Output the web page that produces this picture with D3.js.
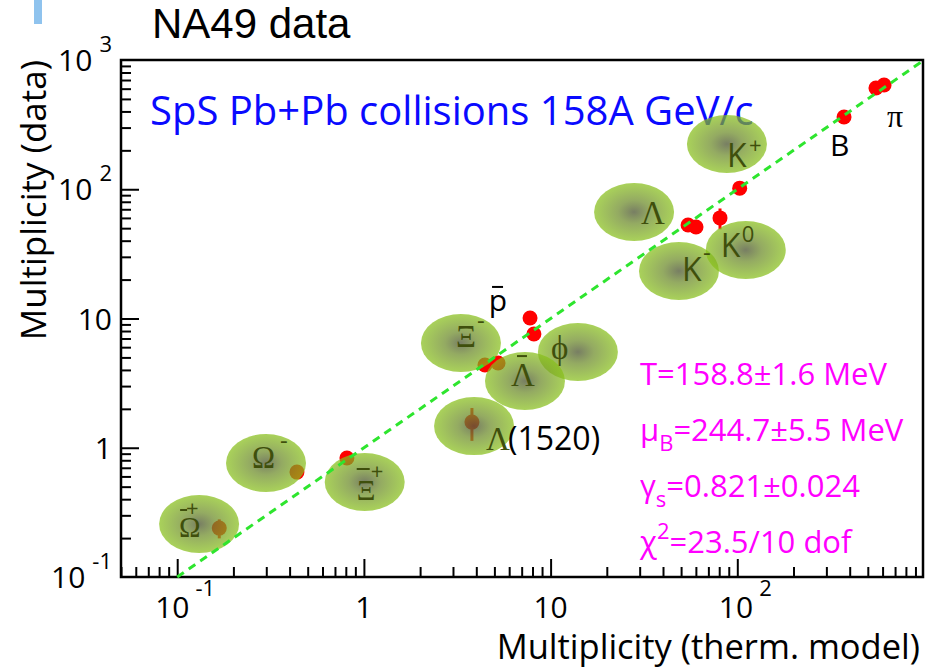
<!DOCTYPE html>
<html><head><meta charset="utf-8">
<script src="https://cdn.jsdelivr.net/npm/d3@7"></script>
<style>body{margin:0;background:#fff}svg{display:block}</style>
</head><body>
<script>
// Hadron yields, central Pb+Pb at 158A GeV/c: thermal-model prediction vs. measurement
const species   = ["pi+","pi-","B","K+","Lambda","K-","K0s","pbar","phi","Xi-","Lambdabar","Lambda(1520)","Omega-","Xibar+","Omegabar+"];
const modelYield = [553, 611, 373, 103, 54.5, 60.1, 80.8, 7.76, 8.14, 4.45, 5.23, 3.79, 0.438, 0.811, 0.168];
const dataYield  = [607, 641, 362, 102, 52.9, 51.0, 60.0, 10.1, 7.59, 4.37, 4.53, 1.58, 0.648, 0.834, 0.239];
const dataErr    = [0, 0, 0, 0, 0, 0, 11, 0, 0, 0, 0, 0.45, 0, 0, 0.04];

// highlighted particle families: blob centres in axis units
const blobIds   = ["K+","Lambda","K-","K0","Xi-","phi","Lambdabar","Lambda1520","Omega-","Xibar+","Omegabar+"];
const blobModel = [88, 28, 48.7, 111, 3.31, 14.0, 7.29, 3.89, 0.299, 1.01, 0.131];
const blobData  = [224, 66.7, 23.3, 33.9, 6.46, 5.51, 3.28, 1.47, 0.762, 0.543, 0.257];

// axis ticks
const xTickValues = [0.1, 1, 10, 100];
const xTickBase   = ["10", "1", "10", "10"];
const xTickExp    = ["-1", "", "", "2"];
const yTickValues = [0.1, 1, 10, 100, 1000];
const yTickBase   = ["10", "1", "10", "10", "10"];
const yTickExp    = ["-1", "", "", "2", "3"];

// fit parameters
const fitLines = [
  [{t: "T=158.8±1.6 MeV"}],
  [{t: "μ"}, {t: "B", sub: true}, {t: "=244.7±5.5 MeV"}],
  [{t: "γ"}, {t: "s", sub: true}, {t: "=0.821±0.024"}],
  [{t: "χ"}, {t: "2", sup: true}, {t: "=23.5/10 dof"}]
];

const W = 927, H = 668;
const SANS = "'Open Sans', 'DejaVu Sans', sans-serif";
const SERIF = "'Liberation Serif', 'DejaVu Serif', serif";
const OLIVE = "#3f4f0c";

const svg = d3.select("body").append("svg").attr("width", W).attr("height", H);

const x = d3.scaleLog().domain([0.05, 1000]).range([121, 924]);
const y = d3.scaleLog().domain([0.1, 1000]).range([577, 60]);

function minorTicks(dom) {
  const out = [];
  for (let e = -2; e <= 3; e++) {
    for (let k = 2; k <= 9; k++) {
      const v = k * Math.pow(10, e);
      if (v >= dom[0] * 0.999 && v <= dom[1] * 1.001) out.push(v);
    }
  }
  return out;
}

// decorative tab top-left
svg.append("rect").attr("x", 34).attr("y", 0).attr("width", 8).attr("height", 24).attr("fill", "#8fc3ee");

// title
svg.append("text").attr("x", 152).attr("y", 38)
  .attr("font-family", "'Liberation Sans', Arial, sans-serif").attr("font-size", 42)
  .attr("fill", "#000").text("NA49 data");

// axes: ticks drawn inward
const gx = svg.append("g").attr("transform", `translate(0,${y.range()[0]})`);
gx.append("g").call(d3.axisBottom(x).tickValues(minorTicks(x.domain())).tickSize(-10).tickFormat(""));
gx.append("g").call(d3.axisBottom(x).tickValues(xTickValues).tickSize(-18).tickFormat(""));
const gy = svg.append("g").attr("transform", `translate(${x.range()[0]},0)`);
gy.append("g").call(d3.axisLeft(y).tickValues(minorTicks(y.domain())).tickSize(-10).tickFormat(""));
gy.append("g").call(d3.axisLeft(y).tickValues(yTickValues.slice(1, 4)).tickSize(-18).tickFormat(""));
svg.selectAll(".domain").remove();
svg.selectAll(".tick line").attr("stroke", "#000").attr("stroke-width", 2);

// frame
svg.append("rect").attr("x", x.range()[0]).attr("y", y.range()[1])
  .attr("width", x.range()[1] - x.range()[0] - 1).attr("height", y.range()[0] - y.range()[1])
  .attr("fill", "none").attr("stroke", "#000").attr("stroke-width", 2.5);

// tick labels
xTickValues.forEach((v, i) => {
  const t = svg.append("text").attr("x", x(v) + (xTickExp[i] ? 8 : 0)).attr("y", 618)
    .attr("text-anchor", "middle").attr("font-family", SANS).attr("font-size", 30).attr("fill", "#000");
  t.append("tspan").text(xTickBase[i]);
  if (xTickExp[i]) t.append("tspan").attr("dx", 6).attr("dy", -22).attr("font-size", 22).text(xTickExp[i]);
});
yTickValues.forEach((v, i) => {
  const t = svg.append("text").attr("x", 112).attr("y", y(v) + 11)
    .attr("text-anchor", "end").attr("font-family", SANS).attr("font-size", 30).attr("fill", "#000");
  t.append("tspan").text(yTickBase[i]);
  if (yTickExp[i]) t.append("tspan").attr("dx", 7).attr("dy", -19).attr("font-size", 22).text(yTickExp[i]);
});

// axis titles
svg.append("text").attr("x", 920).attr("y", 659).attr("text-anchor", "end")
  .attr("font-family", SANS).attr("font-size", 34.5).attr("fill", "#000")
  .text("Multiplicity (therm. model)");
svg.append("text").attr("transform", "translate(46,60) rotate(-90)").attr("text-anchor", "end")
  .attr("font-family", SANS).attr("font-size", 35).attr("fill", "#000")
  .text("Multiplicity (data)");

// system label
svg.append("text").attr("x", 150).attr("y", 125)
  .attr("font-family", SANS).attr("font-size", 40).attr("fill", "#0a0aff")
  .text("SpS Pb+Pb collisions 158A GeV/c");

// labels attached to measured points
const iPbar = species.indexOf("pbar"), iB = species.indexOf("B"), iPi = species.indexOf("pi-");
svg.append("text").attr("x", x(modelYield[iPbar]) - 32).attr("y", y(dataYield[iPbar]) - 7)
  .attr("text-anchor", "middle").attr("font-family", SANS).attr("font-size", 30).text("p");
svg.append("line").attr("x1", x(modelYield[iPbar]) - 38).attr("x2", x(modelYield[iPbar]) - 27)
  .attr("y1", y(dataYield[iPbar]) - 31).attr("y2", y(dataYield[iPbar]) - 31)
  .attr("stroke", "#000").attr("stroke-width", 2);
svg.append("text").attr("x", x(modelYield[iB]) - 14).attr("y", y(dataYield[iB]) + 39)
  .attr("font-family", SANS).attr("font-size", 30).text("B");
svg.append("text").attr("x", x(modelYield[iPi]) + 3).attr("y", y(dataYield[iPi]) + 42)
  .attr("font-family", SERIF).attr("font-size", 32).text("π");

// measured points with error bars
const pts = svg.append("g");
species.forEach((s, i) => {
  if (dataErr[i] > 0) {
    pts.append("line").attr("x1", x(modelYield[i])).attr("x2", x(modelYield[i]))
      .attr("y1", y(dataYield[i] - dataErr[i])).attr("y2", y(dataYield[i] + dataErr[i]))
      .attr("stroke", "#ff0000").attr("stroke-width", 3);
  }
});
pts.selectAll("circle").data(species).join("circle")
  .attr("cx", (d, i) => x(modelYield[i])).attr("cy", (d, i) => y(dataYield[i]))
  .attr("r", 7.5).attr("fill", "#ff0000");

// translucent blobs
const defs = svg.append("defs");
const grad = defs.append("radialGradient").attr("id", "blob");
grad.append("stop").attr("offset", "0%").attr("stop-color", "rgb(86,94,60)").attr("stop-opacity", 0.8);
grad.append("stop").attr("offset", "40%").attr("stop-color", "rgb(112,142,46)").attr("stop-opacity", 0.75);
grad.append("stop").attr("offset", "100%").attr("stop-color", "rgb(136,192,26)").attr("stop-opacity", 0.72);
svg.append("g").selectAll("ellipse").data(blobIds).join("ellipse")
  .attr("cx", (d, i) => x(blobModel[i])).attr("cy", (d, i) => y(blobData[i]))
  .attr("rx", 40).attr("ry", 29).attr("fill", "url(#blob)");

// blob labels
const blobLayout = {
  "K+":        {parts: [{t: "K", f: SANS, s: 32, dx: 0, dy: 23}, {t: "+", f: SANS, s: 22, dx: 22, dy: 9}]},
  "Lambda":    {parts: [{t: "Λ", f: SERIF, s: 33, dx: 7, dy: 12}]},
  "K-":        {parts: [{t: "K", f: SANS, s: 32, dx: 3, dy: 10}, {t: "-", f: SANS, s: 24, dx: 24, dy: -10}]},
  "K0":        {parts: [{t: "K", f: SANS, s: 32, dx: -25, dy: 7}, {t: "0", f: SANS, s: 22, dx: -4, dy: -8}]},
  "Xi-":       {parts: [{t: "Ξ", f: SERIF, s: 31, dx: -5, dy: 4}, {t: "-", f: SANS, s: 24, dx: 16, dy: -14}]},
  "phi":       {parts: [{t: "ϕ", f: SERIF, s: 33, dx: -27, dy: 7}]},
  "Lambdabar": {parts: [{t: "Λ", f: SERIF, s: 33, dx: -14, dy: 5}], bar: [-8, 2, -25]},
  "Lambda1520":{parts: [{t: "Λ", f: SERIF, s: 33, dx: 12, dy: 24}]},
  "Omega-":    {parts: [{t: "Ω", f: SERIF, s: 31, dx: -14, dy: 5}, {t: "-", f: SANS, s: 24, dx: 14, dy: -14}]},
  "Xibar+":    {parts: [{t: "Ξ", f: SERIF, s: 29, dx: -8, dy: 18}, {t: "+", f: SANS, s: 22, dx: 6, dy: -3}], bar: [-8, 5, -13]},
  "Omegabar+": {parts: [{t: "Ω", f: SERIF, s: 29, dx: -20, dy: 13}, {t: "+", f: SANS, s: 22, dx: -13, dy: -8}], bar: [-19, -12, -14]}
};
const labelLayer = svg.append("g");
blobIds.forEach((id, i) => {
  const cx = x(blobModel[i]), cy = y(blobData[i]);
  const L = blobLayout[id];
  L.parts.forEach(p => {
    labelLayer.append("text").attr("x", cx + p.dx).attr("y", cy + p.dy)
      .attr("font-family", p.f).attr("font-size", p.s).attr("fill", OLIVE).text(p.t);
  });
  if (L.bar) {
    labelLayer.append("line").attr("x1", cx + L.bar[0]).attr("x2", cx + L.bar[1])
      .attr("y1", cy + L.bar[2]).attr("y2", cy + L.bar[2]).attr("stroke", OLIVE).attr("stroke-width", 2);
  }
});
// mass suffix of Lambda(1520) sits outside its blob
const iL = blobIds.indexOf("Lambda1520");
svg.append("text").attr("x", x(blobModel[iL]) + 34).attr("y", y(blobData[iL]) + 24)
  .attr("font-family", SANS).attr("font-size", 32).attr("fill", "#000").text("(1520)");

// equality line data = model
svg.append("line")
  .attr("x1", x(0.1)).attr("y1", y(0.1)).attr("x2", x(1000)).attr("y2", y(1000))
  .attr("stroke", "#2ee52e").attr("stroke-width", 3).attr("stroke-dasharray", "8,6");

// fit results
fitLines.forEach((line, i) => {
  const t = svg.append("text").attr("x", 640).attr("y", 385 + i * 56)
    .attr("font-family", SANS).attr("font-size", 31).attr("fill", "#ff00ff");
  let shift = 0;
  line.forEach(seg => {
    const ts = t.append("tspan").text(seg.t);
    if (seg.sub) { ts.attr("dy", 10).attr("font-size", 22); shift = 10; }
    else if (seg.sup) { ts.attr("dy", -14).attr("font-size", 22); shift = -14; }
    else if (shift) { ts.attr("dy", -shift); shift = 0; }
  });
});
</script>
</body></html>
